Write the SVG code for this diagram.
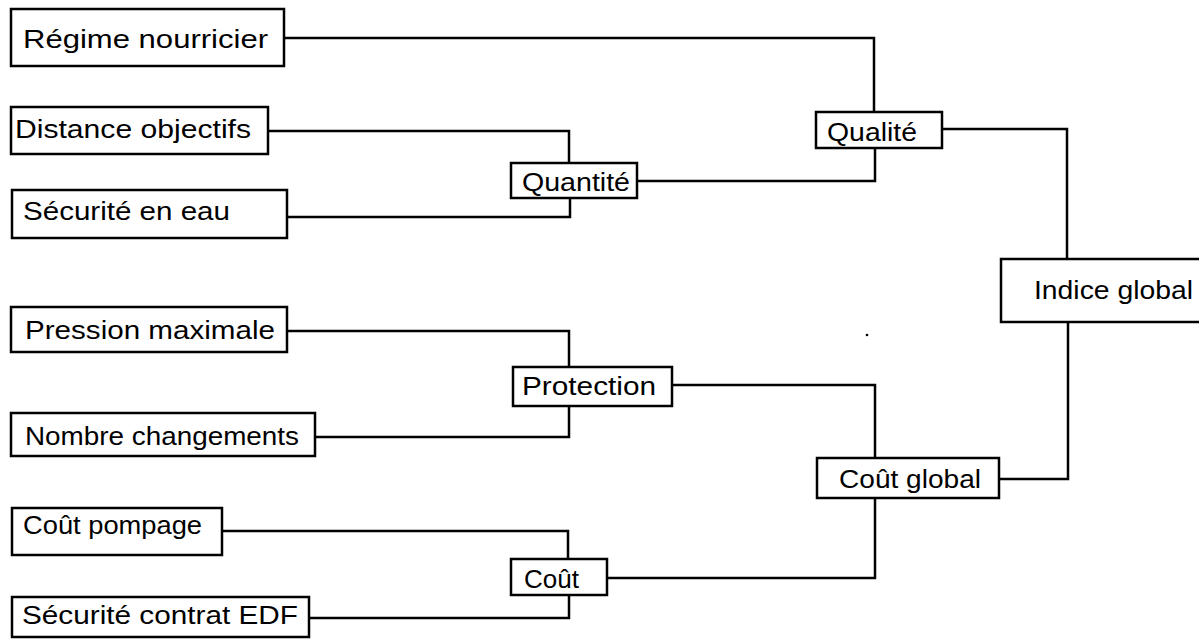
<svg xmlns="http://www.w3.org/2000/svg" width="1199" height="639" viewBox="0 0 1199 639">
<style>
.box{fill:#fff;stroke:#000;stroke-width:2.5}
.t{font-family:"Liberation Sans",Arial,sans-serif;font-size:26px;fill:#000}
.s{font-size:25px}
.c{fill:none;stroke:#000;stroke-width:2.5}
</style>
<rect width="1199" height="639" fill="#fff"/>
<g id="connectors">
<path class="c" d="M284,38 H874 V112"/>
<path class="c" d="M268,131 H569 V163"/>
<path class="c" d="M287,217 H570 V198"/>
<path class="c" d="M637,181 H875 V148"/>
<path class="c" d="M942,129 H1067 V259"/>
<path class="c" d="M287,331 H569 V367"/>
<path class="c" d="M315,437 H569 V406"/>
<path class="c" d="M672,385 H875 V458"/>
<path class="c" d="M999,479 H1068 V322"/>
<path class="c" d="M222,531 H568 V559"/>
<path class="c" d="M309,618 H569 V595"/>
<path class="c" d="M607,578 H875 V498"/>
</g>
<circle cx="867" cy="335" r="1.3" fill="#000"/>
<g id="regime"><rect class="box" x="11" y="9" width="273" height="57"/><text class="t" x="23" y="48" textLength="245" lengthAdjust="spacingAndGlyphs">Régime  nourricier</text></g>
<g id="distance"><rect class="box" x="11" y="107" width="257" height="47"/><text class="t" x="15" y="138" textLength="236" lengthAdjust="spacingAndGlyphs">Distance  objectifs</text></g>
<g id="securite-eau"><rect class="box" x="12" y="190" width="275" height="48"/><text class="t" x="23" y="220" textLength="207" lengthAdjust="spacingAndGlyphs">Sécurité en eau</text></g>
<g id="quantite"><rect class="box" x="511" y="163" width="126" height="35"/><text class="t s" x="522" y="191" textLength="108" lengthAdjust="spacingAndGlyphs">Quantité</text></g>
<g id="qualite"><rect class="box" x="816" y="112" width="126" height="36"/><text class="t s" x="827" y="141" textLength="90" lengthAdjust="spacingAndGlyphs">Qualité</text></g>
<g id="indice"><rect class="box" x="1001" y="259" width="220" height="63"/><text class="t" x="1034" y="299" textLength="159" lengthAdjust="spacingAndGlyphs">Indice  global</text></g>
<g id="pression"><rect class="box" x="11" y="307" width="276" height="45"/><text class="t" x="25" y="339" textLength="250" lengthAdjust="spacingAndGlyphs">Pression  maximale</text></g>
<g id="protection"><rect class="box" x="513" y="367" width="159" height="39"/><text class="t s" x="522" y="395" textLength="134" lengthAdjust="spacingAndGlyphs">Protection</text></g>
<g id="nombre"><rect class="box" x="11" y="413" width="304" height="43"/><text class="t" x="25" y="445" textLength="274" lengthAdjust="spacingAndGlyphs">Nombre changements</text></g>
<g id="cout-global"><rect class="box" x="817" y="458" width="182" height="40"/><text class="t" x="839" y="488" textLength="142" lengthAdjust="spacingAndGlyphs">Coût global</text></g>
<g id="cout-pompage"><rect class="box" x="12" y="508" width="210" height="47"/><text class="t" x="23" y="534" textLength="179" lengthAdjust="spacingAndGlyphs">Coût pompage</text></g>
<g id="cout"><rect class="box" x="511" y="559" width="96" height="36"/><text class="t s" x="524" y="588" textLength="55" lengthAdjust="spacingAndGlyphs">Coût</text></g>
<g id="securite-edf"><rect class="box" x="12" y="597" width="297" height="40"/><text class="t" x="22" y="624" textLength="276" lengthAdjust="spacingAndGlyphs">Sécurité contrat EDF</text></g>
</svg>
